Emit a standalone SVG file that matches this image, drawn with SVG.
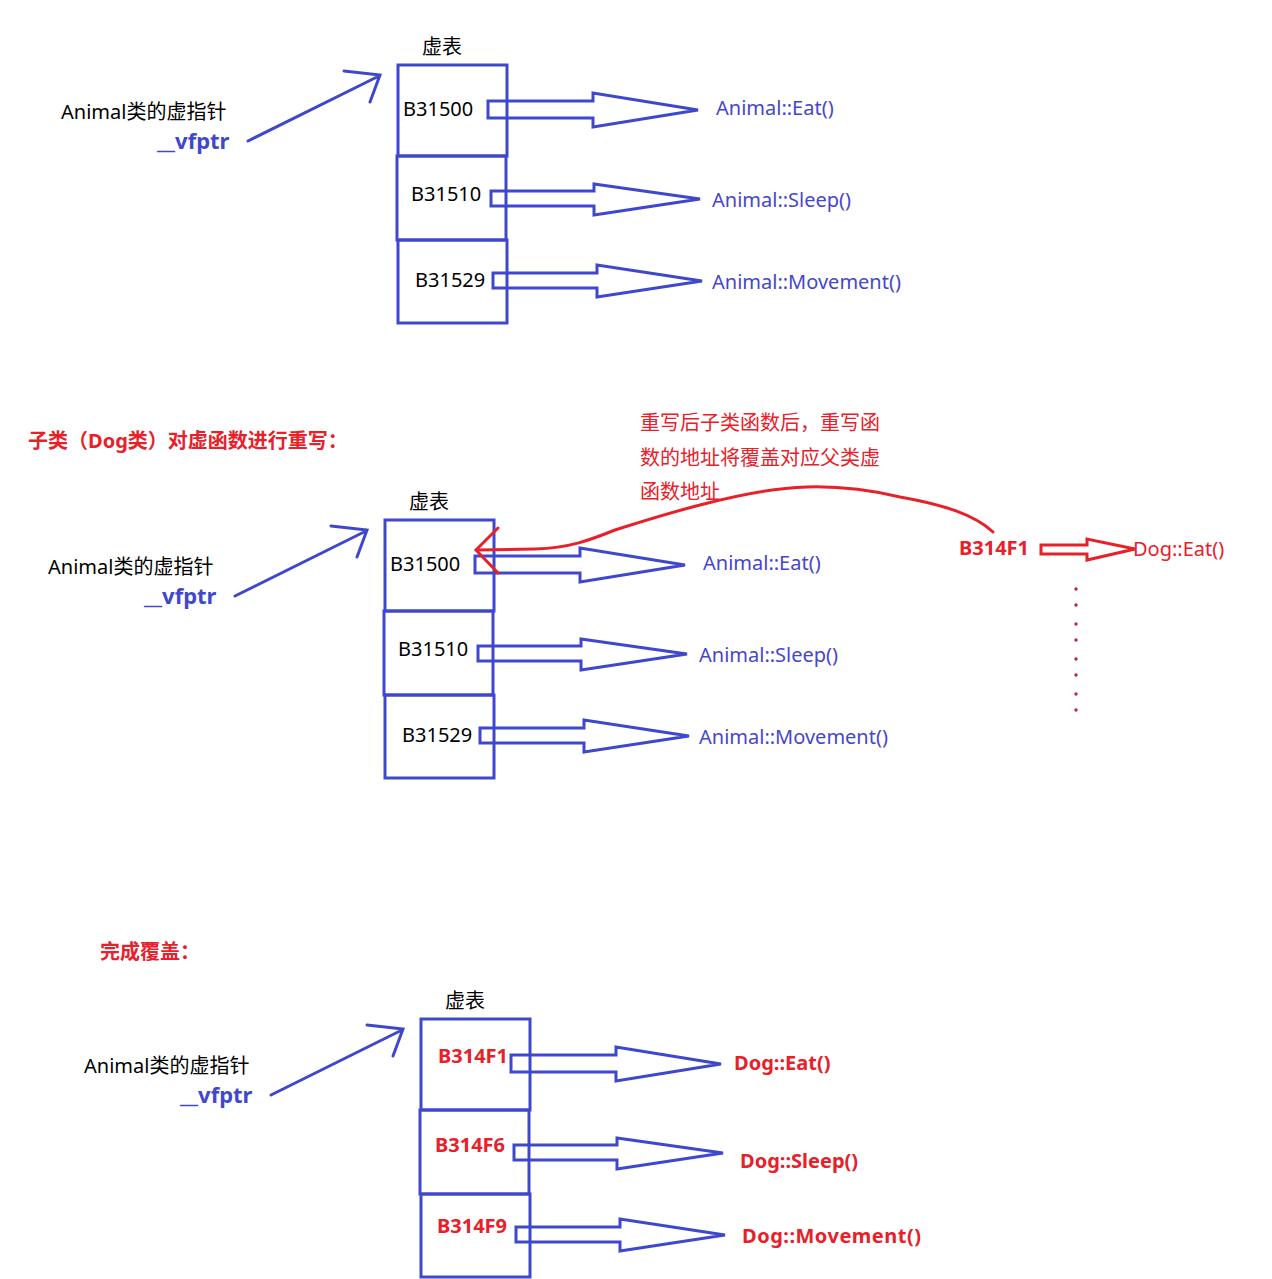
<svg xmlns="http://www.w3.org/2000/svg" width="1272" height="1279" viewBox="0 0 1272 1279">
<style>
.t{font-family:"Noto Sans","Noto Sans CJK SC",sans-serif;font-size:20px;fill:#000}
.lbl{font-family:"Noto Sans","Noto Sans CJK SC",sans-serif;font-size:20px;fill:#4646cc}
.vf{font-family:"Noto Sans","Noto Sans CJK SC",sans-serif;font-size:22px;font-weight:bold;fill:#3f48cc}
.rb{font-family:"Noto Sans","Noto Sans CJK SC",sans-serif;font-size:20px;font-weight:bold;fill:#e8202a}
.rn{font-family:"Noto Sans","Noto Sans CJK SC",sans-serif;font-size:20px;fill:#e8202a}
.cell{fill:none;stroke:#3f48cc;stroke-width:3}
.blk{fill:none;stroke:#3f48cc;stroke-width:3;stroke-linejoin:miter}
.ptr{fill:none;stroke:#3f48cc;stroke-width:3;stroke-linecap:round}
.red{fill:none;stroke:#e8202a;stroke-width:3;stroke-linecap:round;stroke-linejoin:round}
</style>
<rect width="1272" height="1279" fill="#fff"/>

<!-- Section 1 -->
<g id="section1">
  <g id="s1-pointer"><text class="t" x="61" y="119">Animal类的虚指针</text><text class="vf" x="157" y="149">__vfptr</text></g>
  <g id="s1-vtable">
    <text class="t" x="422" y="54">虚表</text>
    <rect class="cell" x="398" y="65" width="109" height="91"/>
    <rect class="cell" x="397" y="156" width="109" height="84"/>
    <rect class="cell" x="398" y="240" width="109" height="83"/>
    <text class="t" x="403" y="116">B31500</text>
    <text class="t" x="411" y="201">B31510</text>
    <text class="t" x="415" y="287">B31529</text>
  </g>
  <g id="s1-eat"><text class="lbl" x="716" y="115">Animal::Eat()</text></g>
  <g id="s1-sleep"><text class="lbl" x="712" y="207">Animal::Sleep()</text></g>
  <g id="s1-move"><text class="lbl" x="712" y="289">Animal::Movement()</text></g>
  <g id="s1-connectors">
    <path class="ptr" d="M248,141 L379,76 M344,71 L380,75 L370,102"/>
    <polygon class="blk" points="488,101 593,101 593,93 698,110 593,127 593,118 488,118"/>
    <polygon class="blk" points="491,191 594,191 594,184 700,199 594,215 594,206 491,206"/>
    <polygon class="blk" points="493,273 597,273 597,265 702,281 597,297 597,288 493,288"/>
  </g>
</g>

<!-- Section 2 -->
<text id="title2" class="rb" x="28" y="448">子类（Dog类）对虚函数进行重写：</text>
<g id="section2" transform="translate(-13,455)">
  <g id="s2-pointer"><text class="t" x="61" y="119">Animal类的虚指针</text><text class="vf" x="157" y="149">__vfptr</text></g>
  <g id="s2-vtable">
    <text class="t" x="422" y="54">虚表</text>
    <rect class="cell" x="398" y="65" width="109" height="91"/>
    <rect class="cell" x="397" y="156" width="109" height="84"/>
    <rect class="cell" x="398" y="240" width="109" height="83"/>
    <text class="t" x="403" y="116">B31500</text>
    <text class="t" x="411" y="201">B31510</text>
    <text class="t" x="415" y="287">B31529</text>
  </g>
  <g id="s2-eat"><text class="lbl" x="716" y="115">Animal::Eat()</text></g>
  <g id="s2-sleep"><text class="lbl" x="712" y="207">Animal::Sleep()</text></g>
  <g id="s2-move"><text class="lbl" x="712" y="289">Animal::Movement()</text></g>
  <g id="s2-connectors">
    <path class="ptr" d="M248,141 L379,76 M344,71 L380,75 L370,102"/>
    <polygon class="blk" points="488,101 593,101 593,93 698,110 593,127 593,118 488,118"/>
    <polygon class="blk" points="491,191 594,191 594,184 700,199 594,215 594,206 491,206"/>
    <polygon class="blk" points="493,273 597,273 597,265 702,281 597,297 597,288 493,288"/>
  </g>
</g>
<g id="note">
  <text class="rn" x="640" y="430">重写后子类函数后，重写函</text>
  <text class="rn" x="640" y="465">数的地址将覆盖对应父类虚</text>
  <text class="rn" x="640" y="499">函数地址</text>
</g>
<g id="dog-addr"><text class="rb" x="959" y="555">B314F1</text></g>
<g id="dog-eat"><text class="rn" x="1133" y="556">Dog::Eat()</text></g>
<g id="red-connectors">
  <path class="red" d="M993,532 C975,515 945,505 900,497 C870,490 840,486 807,487 C770,488 730,497 700,505 C665,514 640,522 615,530 C590,540 570,548 535,549 L476,550"/>
  <path class="red" d="M498,528 L476,550 L498,573"/>
  <polygon points="1041,545 1087,545 1087,539 1135,549 1087,560 1087,554 1041,554" fill="none" stroke="#e8202a" stroke-width="3"/>
  <g fill="#c8203a">
    <circle cx="1076" cy="589" r="1.7"/><circle cx="1076" cy="605" r="1.7"/>
    <circle cx="1076" cy="624" r="1.7"/><circle cx="1076" cy="640" r="1.7"/>
    <circle cx="1076" cy="659" r="1.7"/><circle cx="1076" cy="675" r="1.7"/>
    <circle cx="1076" cy="694" r="1.7"/><circle cx="1076" cy="710" r="1.7"/>
  </g>
</g>

<!-- Section 3 -->
<text id="title3" class="rb" x="100" y="959">完成覆盖：</text>
<g id="section3" transform="translate(23,954)">
  <g id="s3-pointer"><text class="t" x="61" y="119">Animal类的虚指针</text><text class="vf" x="157" y="149">__vfptr</text></g>
  <g id="s3-vtable">
    <text class="t" x="422" y="54">虚表</text>
    <rect class="cell" x="398" y="65" width="109" height="91"/>
    <rect class="cell" x="397" y="156" width="109" height="84"/>
    <rect class="cell" x="398" y="240" width="109" height="83"/>
    <text class="rb" x="415" y="109">B314F1</text>
    <text class="rb" x="412" y="198">B314F6</text>
    <text class="rb" x="414" y="279">B314F9</text>
  </g>
  <g id="s3-eat"><text class="rb" x="711" y="116">Dog::Eat()</text></g>
  <g id="s3-sleep"><text class="rb" x="717" y="214">Dog::Sleep()</text></g>
  <g id="s3-move"><text class="rb" x="719" y="289" textLength="179">Dog::Movement()</text></g>
  <g id="s3-connectors">
    <path class="ptr" d="M248,141 L379,76 M344,71 L380,75 L370,102"/>
    <polygon class="blk" points="488,101 593,101 593,93 698,110 593,127 593,118 488,118"/>
    <polygon class="blk" points="491,191 594,191 594,184 700,199 594,215 594,206 491,206"/>
    <polygon class="blk" points="493,273 597,273 597,265 702,281 597,297 597,288 493,288"/>
  </g>
</g>
</svg>
